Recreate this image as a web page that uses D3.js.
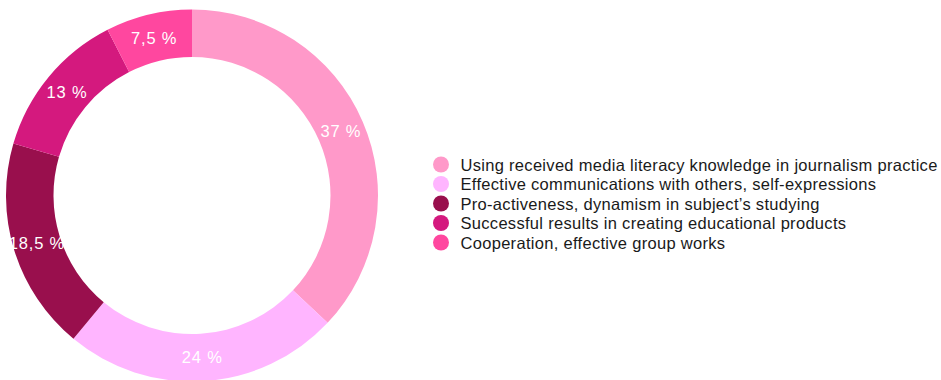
<!DOCTYPE html>
<html>
<head>
<meta charset="utf-8">
<script src="https://cdn.jsdelivr.net/npm/d3@7"></script>
<style>
  html, body { margin: 0; padding: 0; background: #fff; }
  svg { display: block; }
</style>
</head>
<body>
<svg id="chart" width="941" height="380"></svg>
<script>
// Outcome categories and their shares (percent)
const categories = [
  "Using received media literacy knowledge in journalism practice",
  "Effective communications with others, self-expressions",
  "Pro-activeness, dynamism in subject’s studying",
  "Successful results in creating educational products",
  "Cooperation, effective group works"
];
const values = [37, 24, 18.5, 13, 7.5];
const valueLabels = ["37 %", "24 %", "18,5 %", "13 %", "7,5 %"];
const colors = ["#ff99c9", "#ffb5ff", "#990f4d", "#d4197e", "#ff479f"];

const svg = d3.select("#chart");
const font = "'Liberation Sans', Helvetica, Arial, sans-serif";

const cx = 192, cy = 195.5;
const outerR = 186, innerR = 138.5;

const pie = d3.pie().sort(null).value(d => d.value);
const arc = d3.arc().innerRadius(innerR).outerRadius(outerR);

const data = categories.map((c, i) => ({ name: c, value: values[i], label: valueLabels[i], color: colors[i] }));
const arcs = pie(data);

const g = svg.append("g").attr("transform", `translate(${cx},${cy})`);

g.selectAll("path.slice")
  .data(arcs)
  .join("path")
  .attr("class", "slice")
  .attr("d", arc)
  .attr("fill", d => d.data.color);

g.selectAll("text.val")
  .data(arcs)
  .join("text")
  .attr("class", "val")
  .attr("x", d => arc.centroid(d)[0])
  .attr("y", d => arc.centroid(d)[1])
  .attr("text-anchor", "middle")
  .attr("dominant-baseline", "central")
  .attr("fill", "#ffffff")
  .attr("font-family", font)
  .attr("font-size", 16.5)
  .attr("letter-spacing", 0.8)
  .text(d => d.data.label);

// Legend
const legendY = d3.scalePoint().domain(categories).range([164.5, 242.5]);
const legend = svg.append("g");
const items = legend.selectAll("g.item")
  .data(data)
  .join("g")
  .attr("class", "item")
  .attr("transform", d => `translate(441,${legendY(d.name)})`);

items.append("circle")
  .attr("r", 8)
  .attr("fill", d => d.color);

items.append("text")
  .attr("x", 19.5)
  .attr("y", 0)
  .attr("dominant-baseline", "central")
  .attr("fill", "#1a1a1a")
  .attr("font-family", font)
  .attr("font-size", 16.5)
  .attr("letter-spacing", 0.3)
  .text(d => d.name);
</script>
</body>
</html>
